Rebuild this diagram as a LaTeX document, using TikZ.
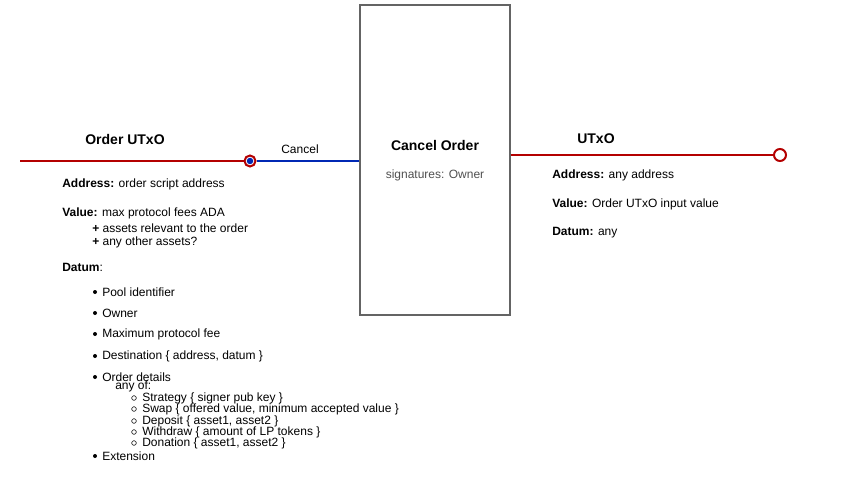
\documentclass[tikz,border=0pt]{standalone}
\usepackage{fontspec}
\setmainfont{Liberation Sans}
\begin{document}
\begin{tikzpicture}[x=0.75pt,y=-0.75pt,
  txt/.style={anchor=west,inner sep=0pt,font=\fontsize{9}{10}\selectfont},
  ttl/.style={inner sep=0pt,font=\fontsize{10.5}{12}\selectfont\bfseries},
  redline/.style={draw={rgb,255:red,180;green,0;blue,0},line width=1.5pt},
  blueline/.style={draw={rgb,255:red,0;green,40;blue,180},line width=1.5pt},
  bul/.style={circle,fill=black,inner sep=0pt,minimum size=3pt},
  sbul/.style={circle,draw=black,line width=0.4pt,inner sep=0pt,minimum size=3.5pt}]
\useasboundingbox (0,0) rectangle (865,478);
\definecolor{boxgray}{RGB}{100,100,100}
% box
\node[draw=boxgray,line width=1pt,minimum width=150*0.75pt,minimum height=310*0.75pt,inner sep=0pt] (tx) at (435,160) {};
\node[ttl] (txt1) at (435,145) {Cancel Order};
\node[inner sep=0pt,font=\fontsize{9}{10}\selectfont,text={rgb,255:red,80;green,80;blue,80}] (sig) at (435,175) {signatures: Owner};
% left input
\coordinate (lstart) at (20,161);
\node[circle,draw={rgb,255:red,180;green,0;blue,0},line width=1.5pt,fill=white,minimum size=11*0.75pt,inner sep=0pt] (inc) at (250,161) {};
\node[circle,fill={rgb,255:red,0;green,40;blue,180},minimum size=6.5*0.75pt,inner sep=0pt] (indot) at (250,161) {};
\draw[redline] (lstart) -- (inc.west);
\coordinate (txin) at (tx.west |- inc);
\draw[blueline] (inc.east) -- (txin);
\node[inner sep=0pt,font=\fontsize{9}{10}\selectfont] (cancel) at (300,149) {Cancel};
\node[ttl] (outl) at (125,139) {Order UTxO};
% right output
\node[circle,draw={rgb,255:red,180;green,0;blue,0},line width=1.5pt,fill=white,minimum size=12*0.75pt,inner sep=0pt] (outc) at (780,155) {};
\coordinate (txout) at (tx.east |- outc);
\draw[redline] (txout) -- (outc.west);
\node[ttl] (outr) at (596,139) {UTxO};
% left text
\node[txt] (a1) at (62,184) {\textbf{Address:} order script address};
\node[txt] (v1) at (62,213) {\textbf{Value:} max protocol fees ADA};
\node[txt] (v2) at (92,228) {\textbf{+} assets relevant to the order};
\node[txt] (v3) at (92,242) {\textbf{+} any other assets?};
\node[txt] (d1) at (62,267) {\textbf{Datum}:};
\foreach \y/\t [count=\i] in {292/Pool identifier,313/Owner,334/Maximum protocol fee,356/{Destination \{ address, datum \}},377/Order details,456/Extension}{
  \node[bul] (b\i) at (95,\y) {};
  \node[txt] (bt\i) at (102,\y) {\t};
}
\node[txt] (any) at (115,386) {any of:};
\foreach \y/\t [count=\i] in {398/{Strategy \{ signer pub key \}},409/{Swap \{ offered value, minimum accepted value \}},421/{Deposit \{ asset1, asset2 \}},432/{Withdraw \{ amount of LP tokens \}},443/{Donation \{ asset1, asset2 \}}}{
  \node[sbul] (s\i) at (134,\y) {};
  \node[txt] (st\i) at (142,\y) {\t};
}
% right text
\node[txt] (ra) at (552,175) {\textbf{Address:} any address};
\node[txt] (rv) at (552,204) {\textbf{Value:} Order UTxO input value};
\node[txt] (rd) at (552,233) {\textbf{Datum:} any};
\end{tikzpicture}
\end{document}
